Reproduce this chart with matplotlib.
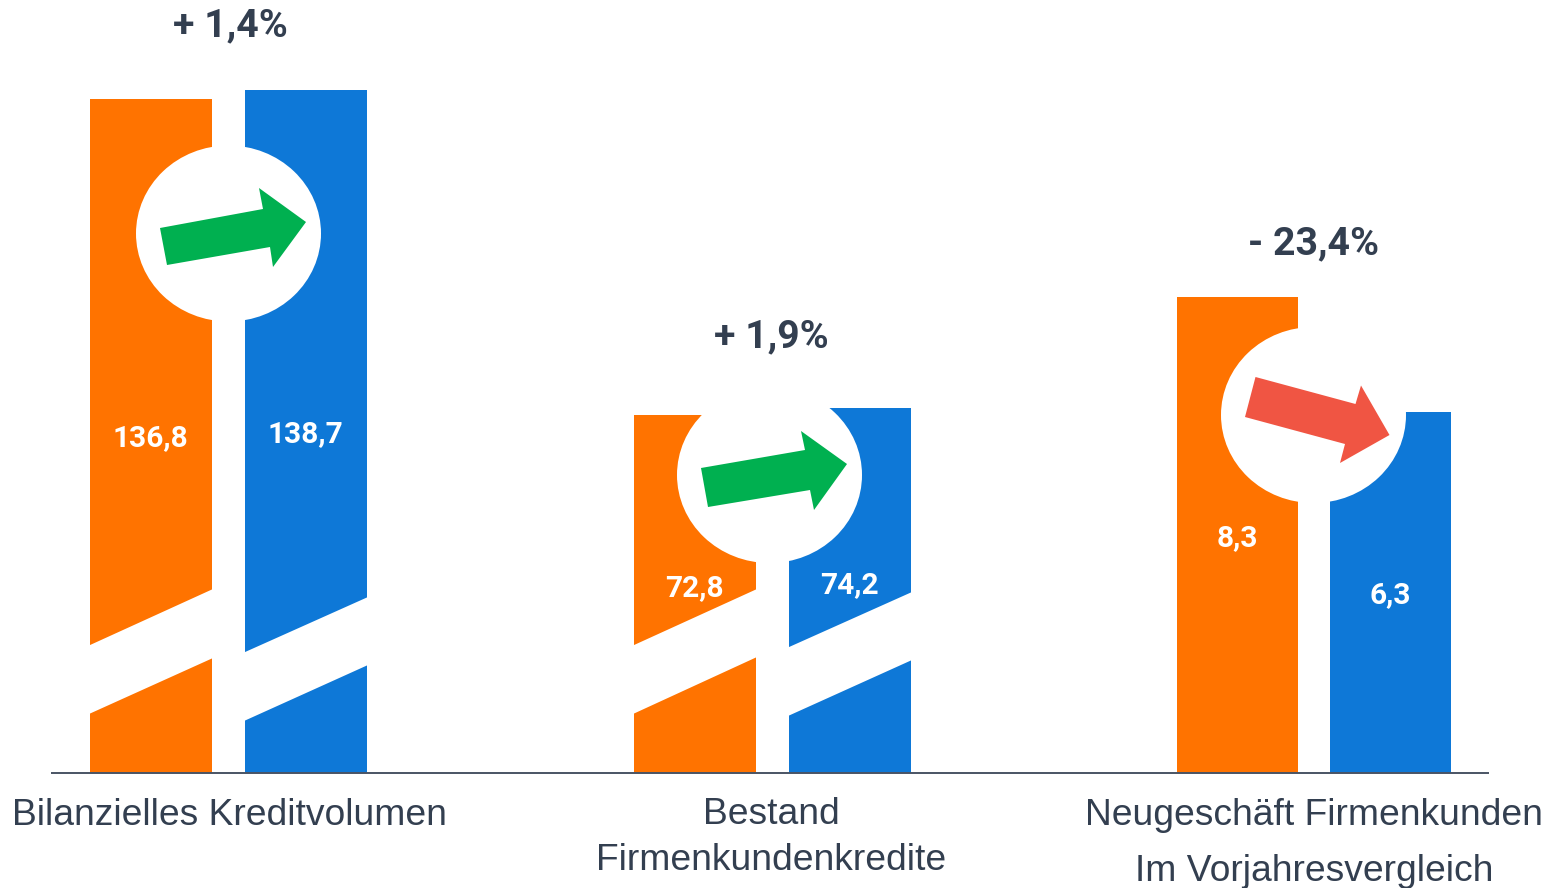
import numpy as np
import matplotlib
matplotlib.use("Agg")
import matplotlib.pyplot as plt
from matplotlib.patches import Ellipse, Polygon

W, H = 1547, 888
BASE = 773

old_values = [136.8, 72.8, 8.3]
new_values = [138.7, 74.2, 6.3]
old_labels = ["136,8", "72,8", "8,3"]
new_labels = ["138,7", "74,2", "6,3"]
changes = ["+ 1,4%", "+ 1,9%", "- 23,4%"]

ORANGE = "#ff7300"
BLUE = "#0e78d7"
GREEN = "#00b050"
RED = "#f05543"
TEXT = "#333f50"

fig = plt.figure(figsize=(W / 100, H / 100), dpi=100)


def px_axes(left, right, top, bottom, zorder=1):
    return fig.add_axes([left / W, 1 - bottom / H, (right - left) / W, (bottom - top) / H], zorder=zorder)


# every group has its own y scale (pixels per unit, value at baseline)
groups = [
    dict(c1=151, c2=306, s=4.74, y0=-5.4, w=122),
    dict(c1=695, c2=850, s=5.0, y0=1.2, w=122),
    dict(c1=1237.5, c2=1390.5, s=57.5, y0=0.02, w=121),
]

for i, g in enumerate(groups):
    step = g["c2"] - g["c1"]
    ax = px_axes(g["c1"] - step / 2, g["c2"] + step / 2, 0, BASE)
    ax.set_xlim(-0.5, 1.5)
    ax.set_ylim(g["y0"], g["y0"] + BASE / g["s"])
    ax.bar([0, 1], [old_values[i] - g["y0"], new_values[i] - g["y0"]], bottom=g["y0"],
           width=g["w"] / step, color=[ORANGE, BLUE], linewidth=0)
    ax.axis("off")

# overlay in picture pixels: cuts, circles, arrows, text
ov = px_axes(0, W, 0, H, zorder=5)
ov.set_xlim(0, W)
ov.set_ylim(H, 0)
ov.axis("off")
ov.patch.set_alpha(0)

# axis break bands
cuts = [
    (90, 212, 645.5, 589, 714, 658),
    (245, 367, 652.5, 597, 721, 665),
    (634, 756, 645.5, 589, 714, 657),
    (789, 911, 647.5, 592, 716, 660),
]
for x0, x1, a0, a1, b0, b1 in cuts:
    ov.add_patch(Polygon([(x0 - 1, a0), (x1 + 1, a1), (x1 + 1, b1), (x0 - 1, b0)], fc="white", ec="none"))

for cx, cy in [(228.5, 233.5), (769.5, 475), (1313.5, 415)]:
    ov.add_patch(Ellipse((cx, cy), 185, 176, fc="white", ec="none"))

arrow1 = [(160, 228), (263, 209), (259, 188), (306, 222), (273, 267), (270, 247), (167, 265)]
arrow2 = [(701, 468), (805, 450), (801, 431), (847, 464), (814, 510), (810, 490), (708, 507)]
arrow3 = [(1255.5, 377), (1355.5, 404), (1361, 385.5), (1389.5, 435), (1340, 463), (1345, 444), (1245, 417)]
ov.add_patch(Polygon(arrow1, fc=GREEN, ec="none"))
ov.add_patch(Polygon(arrow2, fc=GREEN, ec="none"))
ov.add_patch(Polygon(arrow3, fc=RED, ec="none"))

ov.plot([51, 1489], [BASE, BASE], color="#4a5464", lw=1.4, solid_capstyle="butt")

val_pos = [(150.5, 438), (305.5, 434), (694.5, 588), (849.5, 585), (1237.5, 538), (1390.5, 595)]
val_txt = [old_labels[0], new_labels[0], old_labels[1], new_labels[1], old_labels[2], new_labels[2]]
for (x, y), t in zip(val_pos, val_txt):
    ov.text(x, y, t, color="white", fontsize=21.5, fontweight="bold", family="Roboto", ha="center", va="center")

pct_pos = [(230, 26), (771, 337), (1313.5, 244)]
for (x, y), t in zip(pct_pos, changes):
    ov.text(x, y, t, color=TEXT, fontsize=28.3, fontweight="bold", family="Roboto", ha="center", va="center")

cat_text = [
    (229, 815, "Bilanzielles Kreditvolumen"),
    (771, 814, "Bestand"),
    (771, 860, "Firmenkundenkredite"),
    (1314, 815, "Neugeschäft Firmenkunden"),
    (1314, 871, "Im Vorjahresvergleich"),
]
for x, y, t in cat_text:
    ov.text(x, y, t, color=TEXT, fontsize=26.8, family="Liberation Sans", ha="center", va="center")

fig.savefig("out.png", dpi=100)
